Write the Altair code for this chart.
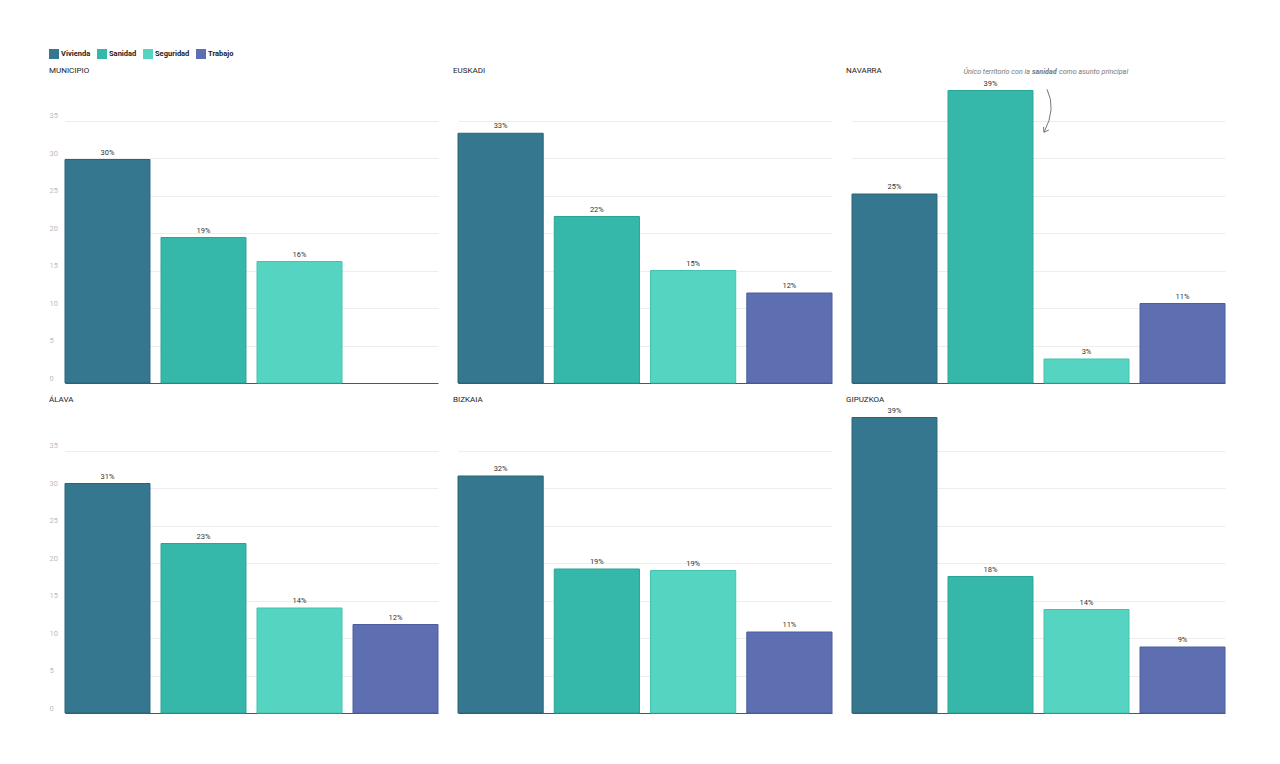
import altair as alt
import pandas as pd

categories = ["Vivienda", "Sanidad", "Seguridad", "Trabajo"]
colors = ["#35778f", "#35b8a9", "#55d4c1", "#5d6fb0"]
strokes = ["#2b6479", "#2aa595", "#43c3ae", "#4c5e9e"]

regions = ["MUNICIPIO", "EUSKADI", "NAVARRA", "ÁLAVA", "BIZKAIA", "GIPUZKOA"]
municipio = [29.8, 19.4, 16.2, None]
euskadi = [33.3, 22.2, 15.0, 12.0]
navarra = [25.2, 39.0, 3.2, 10.6]
alava = [30.6, 22.6, 14.0, 11.8]
bizkaia = [31.6, 19.2, 19.0, 10.8]
gipuzkoa = [39.4, 18.2, 13.8, 8.8]
series = [municipio, euskadi, navarra, alava, bizkaia, gipuzkoa]

y_ticks = [0, 5, 10, 15, 20, 25, 30, 35]

FONT = "Roboto"
one = pd.DataFrame({"k": [0]})


def panel(region, values, width, rng, show_axis, show_legend, title_y, extra=None):
    rows = [(c, v) for c, v in zip(categories, values) if v is not None]
    df = pd.DataFrame(rows, columns=["cat", "val"])
    df["label"] = [f"{int(round(v))}%" for v in df["val"]]

    x = alt.X(
        "cat:N",
        sort=categories,
        scale=alt.Scale(domain=categories, range=rng, paddingInner=0.115, paddingOuter=0),
        axis=alt.Axis(title=None, labels=False, ticks=False, domain=True,
                      domainColor="#555555", domainWidth=1, grid=False),
    )
    if show_axis:
        yaxis = alt.Axis(title=None, values=y_ticks, labelAlign="left", labelPadding=0,
                         tickSize=0, ticks=False, domain=False, grid=True,
                         gridColor="#ededed", labelColor="#bbbbbb", labelFontSize=7.5,
                         labelBaseline="alphabetic", labelOffset=-3, labelFont=FONT)
    else:
        yaxis = alt.Axis(title=None, values=y_ticks, labels=False, ticks=False,
                         domain=False, grid=True, gridColor="#ededed")
    y = alt.Y("val:Q", scale=alt.Scale(domain=[0, 40], nice=False), axis=yaxis)

    if show_legend:
        legend = alt.Legend(title=None, orient="none", legendX=0, legendY=-34,
                            direction="horizontal", symbolType="square", symbolSize=100,
                            labelFontWeight="bold", labelFontSize=7.5, labelColor="#222222",
                            labelFont=FONT, columnPadding=6, labelOffset=2,
                            symbolStrokeWidth=0)
    else:
        legend = None

    bars = alt.Chart(df).mark_bar(strokeWidth=1).encode(
        x=x, y=y,
        color=alt.Color("cat:N", scale=alt.Scale(domain=categories, range=colors), legend=legend),
        stroke=alt.Stroke("cat:N", scale=alt.Scale(domain=categories, range=strokes), legend=None),
    )
    text = alt.Chart(df).mark_text(baseline="bottom", dy=-3, fontSize=7.5, color="#333333",
                                   font=FONT).encode(x=x, y=y, text="label:N")
    title = alt.Chart(one).mark_text(align="left", baseline="middle", fontSize=8,
                                     color="#222222", font=FONT).encode(
        x=alt.value(0), y=alt.value(title_y), text=alt.value(region))
    layers = [bars, text, title] + (extra or [])
    return alt.layer(*layers).properties(width=width, height=300)


ann_y = 41.45
ann_style = dict(fontStyle="italic", fontSize=7.2, color="#777777", font=FONT, baseline="middle")
ann_left = alt.Chart(one).mark_text(align="right", dx=39.5, **ann_style).encode(
    x=alt.X(datum="Sanidad", type="nominal"), y=alt.Y(datum=ann_y, type="quantitative"),
    text=alt.value("Único territorio con la"))
ann_bold = alt.Chart(one).mark_text(align="left", dx=41.5, fontWeight="bold", **ann_style).encode(
    x=alt.X(datum="Sanidad", type="nominal"), y=alt.Y(datum=ann_y, type="quantitative"),
    text=alt.value("sanidad"))
ann_right = alt.Chart(one).mark_text(align="left", dx=68.5, **ann_style).encode(
    x=alt.X(datum="Sanidad", type="nominal"), y=alt.Y(datum=ann_y, type="quantitative"),
    text=alt.value("como asunto principal"))
arrow_path = "M0,-1 Q0.45,-0.1 -0.14,1 M0.086,0.896 L-0.14,1 L-0.161,0.752"
ann_arrow = alt.Chart(one).mark_point(shape=arrow_path, size=1849, filled=False, strokeWidth=1,
                                      color="#777777", opacity=1, xOffset=56.5).encode(
    x=alt.X(datum="Sanidad", type="nominal"), y=alt.Y(datum=36.3, type="quantitative"))

widths = [396, 385, 383]
ranges = [[16, 389], [5, 379], [6, 379]]
title_ys = [-12, -13]

panels = []
for i, (region, vals) in enumerate(zip(regions, series)):
    col = i % 3
    row = i // 3
    extra = [ann_left, ann_bold, ann_right, ann_arrow] if region == "NAVARRA" else None
    panels.append(panel(region, vals, widths[col], ranges[col], col == 0, i == 0,
                        title_ys[row], extra))

chart = alt.concat(*panels, columns=3).properties(
    bounds="flush", align="each", spacing={"row": 30, "column": 8},
    padding={"left": 41, "top": 41, "right": 5, "bottom": 5},
).resolve_scale(color="shared", stroke="shared").configure(font=FONT).configure_view(stroke=None)

chart.save("out.html", embed_options={"renderer": "svg", "actions": False})
